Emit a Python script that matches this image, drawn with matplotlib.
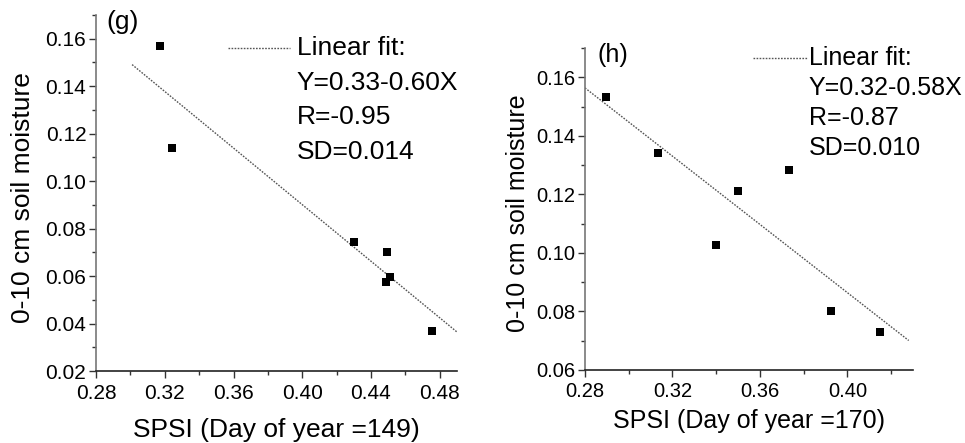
import numpy as np
import matplotlib
matplotlib.use('Agg')
import matplotlib.pyplot as plt
from matplotlib.ticker import MultipleLocator, FormatStrFormatter

plt.rcParams['font.family'] = ['Liberation Sans', 'DejaVu Sans']

# Panel (g): Day of year 149
spsi_149 = [0.317, 0.324, 0.430, 0.4495, 0.4485, 0.4508, 0.4757]
sm_149 = [0.157, 0.114, 0.0743, 0.070, 0.0574, 0.0598, 0.037]
fit_149 = (0.3285, -0.596)
fit_x_149 = (0.301, 0.491)
text_149 = ['Linear fit:', 'Y=0.33-0.60X', 'R=-0.95', 'SD=0.014']

# Panel (h): Day of year 170
spsi_170 = [0.2896, 0.3135, 0.3401, 0.350, 0.3735, 0.3924, 0.4148]
sm_170 = [0.1534, 0.1341, 0.1026, 0.1212, 0.1282, 0.0802, 0.0731]
fit_170 = (0.3196, -0.583)
fit_x_170 = (0.28, 0.428)
text_170 = ['Linear fit:', 'Y=0.32-0.58X', 'R=-0.87', 'SD=0.010']


def draw_panel(ax, x, y, fit, fit_x, lines, tag, xlabel, xlim, ylim,
               fs, tfs, leg, label_pos):
    ax.scatter(x, y, marker='s', s=34, color='black', zorder=3, linewidths=0)
    xs = np.array(fit_x)
    ax.plot(xs, fit[0] + fit[1] * xs, color='#555555', lw=1.0,
            ls=(0, (1.2, 1.0)), zorder=2)

    ax.set_xlim(*xlim)
    ax.set_ylim(*ylim)
    ax.xaxis.set_major_locator(MultipleLocator(0.04))
    ax.xaxis.set_minor_locator(MultipleLocator(0.02))
    ax.yaxis.set_major_locator(MultipleLocator(0.02))
    ax.yaxis.set_minor_locator(MultipleLocator(0.01))
    ax.xaxis.set_major_formatter(FormatStrFormatter('%.2f'))
    ax.yaxis.set_major_formatter(FormatStrFormatter('%.2f'))
    ax.tick_params(which='major', direction='out', length=5, width=1,
                   labelsize=tfs, pad=2, color='#333333')
    ax.tick_params(axis='x', which='major', pad=4)
    ax.tick_params(which='minor', direction='out', length=3, width=1,
                   color='#333333')

    for side in ('top', 'right'):
        ax.spines[side].set_visible(False)
    ax.spines['left'].set_color('#777777')
    ax.spines['bottom'].set_color('#222222')
    ax.spines['left'].set_linewidth(1.2)
    ax.spines['bottom'].set_linewidth(1.2)

    ax.set_xlabel(xlabel, fontsize=fs, va='center')
    ax.set_ylabel('0-10 cm soil moisture', fontsize=fs, va='center')
    ax.xaxis.set_label_coords(0.5, label_pos[0])
    ax.yaxis.set_label_coords(label_pos[1], label_pos[2])

    ax.text(tag[1], tag[2], tag[0], transform=ax.transAxes, fontsize=fs,
            ha='left', va='center')

    # legend sample + fit statistics
    lx0, lx1, tx, ty = leg
    ax.plot([lx0, lx1], [ty[0], ty[0]], transform=ax.transAxes,
            color='#555555', lw=1.0, ls=(0, (1.2, 1.0)), clip_on=False)
    for t, yy in zip(lines, ty):
        ax.text(tx, yy, t, transform=ax.transAxes, fontsize=fs,
                ha='left', va='center')


fig = plt.figure(figsize=(9.65, 4.43), dpi=100)
ax1 = fig.add_axes([0.0995, 0.1625, 0.374, 0.8036])
ax2 = fig.add_axes([0.6062, 0.1648, 0.340, 0.7269])

draw_panel(ax1, spsi_149, sm_149, fit_149, fit_x_149, text_149,
           ('(g)', 0.030, 0.980), 'SPSI (Day of year =149)',
           (0.28, 0.49), (0.02, 0.17), 19, 15,
           (0.366, 0.537, 0.556, [0.907, 0.809, 0.713, 0.615]),
           (-0.166, -0.202, 0.486))

draw_panel(ax2, spsi_170, sm_170, fit_170, fit_x_170, text_170,
           ('(h)', 0.037, 0.978), 'SPSI (Day of year =170)',
           (0.28, 0.43), (0.06, 0.17), 18, 14.5,
           (0.512, 0.680, 0.682, [0.969, 0.875, 0.782, 0.689]),
           (-0.158, -0.204, 0.488))

fig.savefig('out.png', dpi=100)
